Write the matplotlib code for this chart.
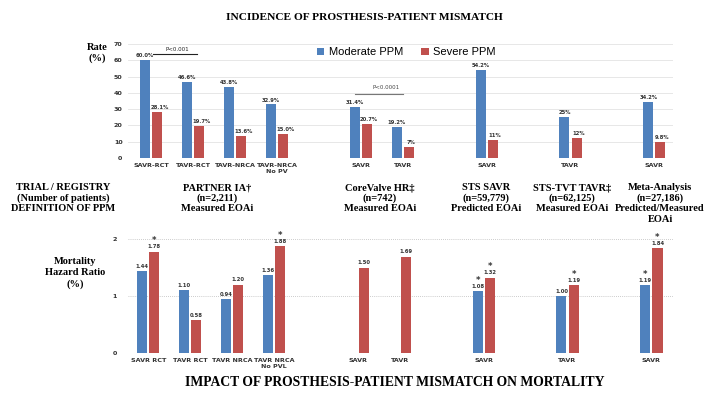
import numpy as np
import matplotlib.pyplot as plt

# ---- data ----
pos = [0, 1, 2, 3, 5, 6, 8, 10, 12]
top_labels = ["SAVR-RCT", "TAVR-RCT", "TAVR-NRCA", "TAVR-NRCA\nNo PV",
              "SAVR", "TAVR", "SAVR", "TAVR", "SAVR"]
moderate = [60.0, 46.6, 43.8, 32.9, 31.4, 19.2, 54.2, 25, 34.2]
moderate_txt = ["60.0%", "46.6%", "43.8%", "32.9%", "31.4%", "19.2%", "54.2%", "25%", "34.2%"]
severe = [28.1, 19.7, 13.6, 15.0, 20.7, 7, 11, 12, 9.8]
severe_txt = ["28.1%", "19.7%", "13.6%", "15.0%", "20.7%", "7%", "11%", "12%", "9.8%"]

bot_labels = ["SAVR RCT", "TAVR RCT", "TAVR NRCA", "TAVR NRCA\nNo PVL",
              "SAVR", "TAVR", "SAVR", "TAVR", "SAVR"]
hr_mod = [1.44, 1.10, 0.94, 1.36, None, None, 1.08, 1.00, 1.19]
hr_mod_star = [False, False, False, False, False, False, True, False, True]
hr_sev = [1.78, 0.58, 1.20, 1.88, 1.50, 1.69, 1.32, 1.19, 1.84]
hr_sev_star = [True, False, False, True, False, False, True, True, True]

studies = ["PARTNER IA\u2020\n(n=2,211)\nMeasured EOAi",
           "CoreValve HR\u2021\n(n=742)\nMeasured EOAi",
           "STS SAVR\n(n=59,779)\nPredicted EOAi",
           "STS-TVT TAVR\u2021\n(n=62,125)\nMeasured EOAi",
           "Meta-Analysis\n(n=27,186)\nPredicted/Measured\nEOAi"]
study_x = [217, 380, 486, 572, 660]

blue = "#4F81BD"
red = "#C0504D"
serif = "Liberation Serif"
sans = "Liberation Sans"
w = 0.24
off = 0.145
lab_fs = 3.8
tick_fs = 4.6
txt_fs = 7.5

fig = plt.figure(figsize=(7.2, 4.05), dpi=100)

# ---- top chart: incidence ----
ax = fig.add_axes([0.178, 0.610, 0.757, 0.281])
x = np.array(pos)
ax.bar(x - off, moderate, w, color=blue, label="Moderate PPM", zorder=3)
ax.bar(x + off, severe, w, color=red, label="Severe PPM", zorder=3)
for xi, v, t in zip(x, moderate, moderate_txt):
    ax.text(xi - off, v + 1.2, t, ha="center", va="bottom", fontsize=lab_fs,
            fontweight="bold", color="#333333")
for xi, v, t in zip(x, severe, severe_txt):
    ax.text(xi + off + 0.05, v + 1.2, t, ha="center", va="bottom", fontsize=lab_fs,
            fontweight="bold", color="#333333")
ax.set_xlim(-0.55, 12.45)
ax.set_ylim(0, 70)
ax.set_yticks(range(0, 71, 10))
ax.set_xticks(x)
ax.set_xticklabels(top_labels)
ax.tick_params(length=0, labelsize=tick_fs, colors="#333333")
ax.tick_params(axis="y", pad=4)
for lb in ax.get_yticklabels() + ax.get_xticklabels():
    lb.set_fontweight("bold")
ax.grid(axis="y", color="#e3e3e3", linewidth=0.6, zorder=0)
for s in ax.spines.values():
    s.set_visible(False)
ax.legend(loc="upper center", bbox_to_anchor=(0.51, 1.06), ncol=2, frameon=False,
          prop={"family": sans, "size": 8}, handlelength=0.7, handleheight=0.7,
          columnspacing=1.6, handletextpad=0.4)

# p-value brackets
ax.plot([0.05, 1.1], [64, 64], color="#222222", linewidth=0.8, clip_on=False)
ax.text(0.62, 65, "P<0.001", ha="center", va="bottom", fontsize=4, color="#222222")
ax.plot([4.85, 6.0], [39.5, 39.5], color="#777777", linewidth=0.8)
ax.text(5.6, 41.5, "P<0.0001", ha="center", va="bottom", fontsize=4, color="#444444")

# ---- bottom chart: mortality ----
bx = fig.add_axes([0.178, 0.128, 0.757, 0.282])
mx = [xi - off for xi, v in zip(pos, hr_mod) if v is not None]
mv = [v for v in hr_mod if v is not None]
ms = [s for s, v in zip(hr_mod_star, hr_mod) if v is not None]
bx.bar(mx, mv, w, color=blue, zorder=3)
bx.bar(x + off, hr_sev, w, color=red, zorder=3)
for xi, v, s in zip(mx, mv, ms):
    bx.text(xi, v + 0.04, "%.2f" % v, ha="center", va="bottom", fontsize=lab_fs,
            fontweight="bold", color="#333333", clip_on=False)
    if s:
        bx.text(xi, v + 0.11, "*", ha="center", va="bottom", fontsize=6,
                fontweight="bold", color="#333333", clip_on=False)
for xi, v, s in zip(x + off, hr_sev, hr_sev_star):
    bx.text(xi, v + 0.04, "%.2f" % v, ha="center", va="bottom", fontsize=lab_fs,
            fontweight="bold", color="#333333", clip_on=False)
    if s:
        bx.text(xi, v + 0.11, "*", ha="center", va="bottom", fontsize=6,
                fontweight="bold", color="#333333", clip_on=False)
bx.set_xlim(-0.48, 12.52)
bx.set_ylim(0, 2)
bx.set_yticks([0, 1, 2])
bx.set_xticks(x)
bx.set_xticklabels(bot_labels)
bx.tick_params(length=0, labelsize=tick_fs, colors="#333333")
bx.tick_params(axis="y", pad=8)
for lb in bx.get_yticklabels() + bx.get_xticklabels():
    lb.set_fontweight("bold")
bx.grid(axis="y", color="#bbbbbb", linewidth=0.6, linestyle=(0, (1, 1.5)), zorder=0)
bx.axhline(0, color="#eeeeee", linewidth=0.6, zorder=1)
for s in bx.spines.values():
    s.set_visible(False)

# ---- texts ----
fig.text(364 / 720, 1 - 17 / 405, "INCIDENCE OF PROSTHESIS-PATIENT MISMATCH",
         ha="center", va="center", family=serif, fontweight="bold", fontsize=8.2)
fig.text(395 / 720, 1 - 382 / 405, "IMPACT OF PROSTHESIS-PATIENT MISMATCH ON MORTALITY",
         ha="center", va="center", family=serif, fontweight="bold", fontsize=9.8)
fig.text(97 / 720, 1 - 53 / 405, "Rate\n(%)", ha="center", va="center",
         family=serif, fontweight="bold", fontsize=txt_fs, linespacing=1.3)
fig.text(75 / 720, 1 - 273 / 405, "Mortality\nHazard Ratio\n(%)", ha="center",
         va="center", family=serif, fontweight="bold", fontsize=txt_fs, linespacing=1.25)
fig.text(63 / 720, 1 - 183 / 405, "TRIAL / REGISTRY\n(Number of patients)\nDEFINITION OF PPM",
         ha="center", va="top", family=serif, fontweight="bold", fontsize=txt_fs,
         linespacing=1.2)
for sx, st in zip(study_x, studies):
    fig.text(sx / 720, 1 - 183 / 405, st, ha="center", va="top", family=serif,
             fontweight="bold", fontsize=txt_fs, linespacing=1.2)

fig.savefig("out.png", dpi=100)
